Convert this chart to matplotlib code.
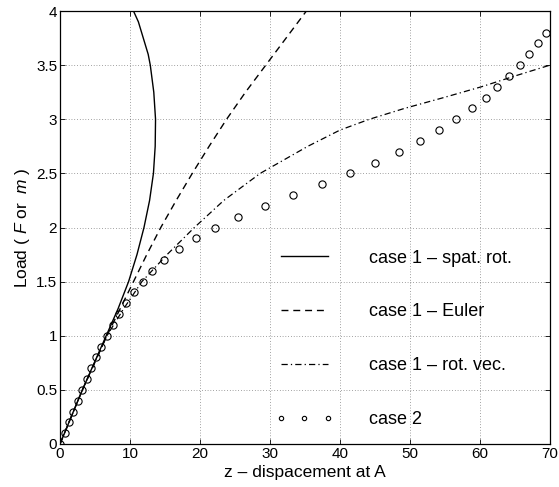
import numpy as np
import matplotlib
matplotlib.use('Agg')
import matplotlib.pyplot as plt

plt.rcParams['font.family'] = ['Liberation Sans', 'DejaVu Sans']
plt.rcParams['mathtext.fontset'] = 'custom'
plt.rcParams['mathtext.rm'] = 'Liberation Sans'
plt.rcParams['mathtext.it'] = 'Liberation Sans:italic'

# case 1 - spatial rotation (solid)
spat_load = [0, 0.25, 0.5, 0.75, 1.0, 1.25, 1.5, 1.75, 2.0, 2.25, 2.5, 2.75, 3.0, 3.25, 3.5, 3.6, 3.75, 3.9, 4.0]
spat_z = [0, 1.6, 3.2, 4.9, 6.6, 8.3, 9.8, 11.0, 12.0, 12.8, 13.35, 13.6, 13.65, 13.4, 12.9, 12.6, 11.9, 11.2, 10.5]

# case 1 - Euler (dashed)
euler_load = [0, 0.5, 1.0, 1.25, 1.5, 1.75, 2.0, 2.25, 2.5, 2.75, 3.0, 3.25, 3.5, 3.75, 4.0]
euler_z = [0, 3.2, 6.7, 8.6, 10.5, 12.4, 14.4, 16.6, 18.9, 21.3, 23.8, 26.5, 29.4, 32.3, 35.2]

# case 1 - rotation vector (dash-dot)
rotvec_load = [0, 0.5, 1.0, 1.25, 1.5, 1.75, 2.0, 2.25, 2.5, 2.75, 2.9, 3.0, 3.1, 3.2, 3.3, 3.4, 3.5]
rotvec_z = [0, 3.2, 6.7, 9.1, 11.7, 15.3, 19.2, 23.4, 28.6, 35.4, 40.0, 44.2, 49.2, 54.8, 60.2, 65.0, 70.0]

# case 2 (circles)
case2_load = [0.0, 0.1, 0.2, 0.3, 0.4, 0.5, 0.6, 0.7, 0.8, 0.9, 1.0, 1.1, 1.2, 1.3,
              1.4, 1.5, 1.6, 1.7, 1.8, 1.9, 2.0, 2.1, 2.2, 2.3, 2.4, 2.5, 2.6, 2.7,
              2.8, 2.9, 3.0, 3.1, 3.2, 3.3, 3.4, 3.5, 3.6, 3.7, 3.8]
case2_z = [0, 0.76, 1.29, 1.9, 2.52, 3.19, 3.81, 4.43, 5.19, 5.9, 6.67, 7.57, 8.43, 9.43,
           10.52, 11.81, 13.19, 14.86, 17.0, 19.38, 22.19, 25.5, 29.3, 33.3, 37.4, 41.4, 45.05, 48.4,
           51.5, 54.1, 56.6, 58.8, 60.8, 62.5, 64.2, 65.7, 67.0, 68.3, 69.5]

fig = plt.figure(figsize=(5.59, 4.87), dpi=100)
ax = fig.add_axes([0.1073, 0.0883, 0.8766, 0.8891])

ax.plot(spat_z, spat_load, color='k', lw=1.0, label='case 1 – spat. rot.')
ax.plot(euler_z, euler_load, color='k', lw=1.0, linestyle=(0, (5, 3.5)), label='case 1 – Euler')
ax.plot(rotvec_z, rotvec_load, color='k', lw=0.9, linestyle=(0, (5, 2.5, 1, 2.5)), label='case 1 – rot. vec.')
ax.plot(case2_z, case2_load, linestyle='none', marker='o', markersize=5.2,
        markerfacecolor='none', markeredgecolor='k', markeredgewidth=0.8, label='case 2')

ax.set_xlim(0, 70)
ax.set_ylim(0, 4)
ax.set_xticks([0, 10, 20, 30, 40, 50, 60, 70])
ax.set_yticks([0, 0.5, 1, 1.5, 2, 2.5, 3, 3.5, 4])
ax.set_yticklabels(['0', '0.5', '1', '1.5', '2', '2.5', '3', '3.5', '4'])
ax.tick_params(direction='in', top=True, right=True, length=3.5, width=0.6, labelsize=11, pad=2)
ax.grid(True, color='k', linestyle=(0, (1, 3)), linewidth=0.5, alpha=0.7)
for s in ax.spines.values():
    s.set_linewidth(0.9)

ax.set_xlabel('z – dispacement at A', fontsize=12.5, labelpad=3)
ax.set_ylabel(r'Load ( $\mathit{F}$ or  $\mathit{m}$ )', fontsize=12.5, labelpad=3)

ax.legend(loc='upper left', bbox_to_anchor=(0.44, 0.449), frameon=False,
          fontsize=13, handlelength=3.2, handletextpad=2.0, labelspacing=2.04,
          borderpad=0, borderaxespad=0, numpoints=3, markerscale=0.6)

fig.savefig('out.png', dpi=100)
